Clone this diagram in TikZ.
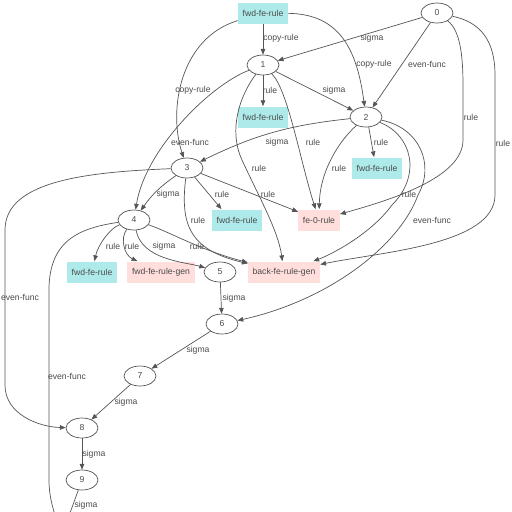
\documentclass[tikz,border=0pt]{standalone}
\usepackage{fontspec}
\setmainfont{Liberation Sans}
\usetikzlibrary{arrows.meta, shapes.geometric}
\definecolor{rulecyan}{RGB}{174,234,234}
\definecolor{genpink}{RGB}{255,222,220}
\definecolor{linegray}{RGB}{85,85,85}
\definecolor{textgray}{RGB}{75,75,75}

\begin{document}
\begin{tikzpicture}[x=0.02cm, y=-0.02cm, >={Triangle[length=3.3pt, width=2.6pt]},
	font=\fontsize{4.9}{5.5}\selectfont,
	nstate/.style={ellipse, draw=linegray, line width=0.4pt, minimum width=0.64cm, minimum height=0.4cm, inner sep=0pt, text=textgray},
	rbox/.style={rectangle, fill=rulecyan, minimum height=0.42cm, inner xsep=2.6pt, inner ysep=0pt, text=textgray},
	gbox/.style={rbox, fill=genpink},
	conn/.style={->, draw=linegray, line width=0.4pt},
	elab/.style={text=textgray, inner sep=0pt}]
	\clip (0,0) rectangle (512,512);
	
	% States and rules
	\node[rbox] (fwdA) at (263,13) {fwd-fe-rule};
	\node[nstate] (n0) at (437,13) {0};
	\node[nstate] (n1) at (263,65) {1};
	\node[rbox] (fwdB) at (263,117) {fwd-fe-rule};
	\node[nstate] (n2) at (366,117) {2};
	\node[nstate] (n3) at (187,168) {3};
	\node[rbox] (fwdC) at (377,168) {fwd-fe-rule};
	\node[nstate] (n4) at (134,220) {4};
	\node[rbox] (fwdD) at (237,220) {fwd-fe-rule};
	\node[gbox] (fe0) at (319,220) {fe-0-rule};
	\node[rbox] (fwdE) at (92,272) {fwd-fe-rule};
	\node[gbox] (fwdgen) at (161,272) {fwd-fe-rule-gen};
	\node[nstate] (n5) at (220,272) {5};
	\node[gbox] (back) at (284,272) {back-fe-rule-gen};
	\node[nstate] (n6) at (222,324) {6};
	\node[nstate] (n7) at (140,376) {7};
	\node[nstate] (n8) at (82,428) {8};
	\node[nstate] (n9) at (82,480) {9};
	\coordinate (n10) at (62,535);
	
	% From the top rule
	\draw[conn] (fwdA) -- (n1) node[elab] at (281,38) {copy-rule};
	\draw[conn] (fwdA) .. controls (340,14) and (357,50) .. (n2) node[elab] at (374,64) {copy-rule};
	\draw[conn] (fwdA) .. controls (180,38) and (168,110) .. (n3) node[elab] at (193,90) {copy-rule};
	
	% From 0
	\draw[conn] (n0) -- (n1) node[elab] at (372,38) {sigma};
	\draw[conn] (n0) -- (n2) node[elab] at (427,64) {even-func};
	\draw[conn] (n0) .. controls (460,30) and (463,55) .. (463,85) -- (463,140) .. controls (463,178) and (390,200) .. (fe0) node[elab] at (471,117) {rule};
	\draw[conn] (n0) .. controls (480,22) and (495,40) .. (495,75) -- (495,195) .. controls (495,245) and (380,252) .. (back) node[elab] at (503,143) {rule};
	
	% From 1
	\draw[conn] (n1) -- (fwdB) node[elab] at (270,90) {rule};
	\draw[conn] (n1) -- (n2) node[elab] at (334,90) {sigma};
	\draw[conn] (n1) .. controls (210,85) and (145,150) .. (n4) node[elab] at (190,142) {even-func};
	\draw[conn] (n1) .. controls (288,90) and (300,160) .. (fe0) node[elab] at (313,142) {rule};
	\draw[conn] (n1) .. controls (240,95) and (228,130) .. (242,160) .. controls (258,195) and (278,230) .. (back) node[elab] at (259,168) {rule};
	
	% From 2
	\draw[conn] (n2) to[bend right=10] (n3) node[elab] at (277,142) {sigma};
	\draw[conn] (n2.-75) -- (fwdC.105) node[elab] at (381,142) {rule};
	\draw[conn] (n2) .. controls (340,140) and (320,170) .. (fe0) node[elab] at (339,168) {rule};
	\draw[conn] (n2) .. controls (412,135) and (422,175) .. (392,205) .. controls (370,235) and (330,255) .. (back) node[elab] at (409,194) {rule};
	\draw[conn] (n2) .. controls (420,128) and (435,165) .. (418,195) .. controls (400,245) and (330,300) .. (n6) node[elab] at (432,220) {even-func};
	
	% From 3
	\draw[conn] (n3) to[bend right=10] (n4) node[elab] at (168,194) {sigma};
	\draw[conn] (n3) -- (fwdD.145) node[elab] at (222,194) {rule};
	\draw[conn] (n3) -- (fe0) node[elab] at (268,194) {rule};
	\draw[conn] (n3) .. controls (180,225) and (190,250) .. (back) node[elab] at (198,220) {rule};
	\draw[conn] (n3) .. controls (90,172) and (5,180) .. (5,230) -- (5,385) .. controls (5,415) and (40,427) .. (n8) node[elab] at (20,297) {even-func};
	
	% From 4
	\draw[conn] (n4) .. controls (110,228) and (98,245) .. (fwdE) node[elab] at (113,246) {rule};
	\draw[conn] (n4) .. controls (120,238) and (124,255) .. (fwdgen) node[elab] at (132,246) {rule};
	\draw[conn] (n4) .. controls (142,260) and (185,262) .. (n5) node[elab] at (164,246) {sigma};
	\draw[conn] (n4) .. controls (170,232) and (200,250) .. (back) node[elab] at (197,246) {rule};
	\draw[conn] (n4) .. controls (80,228) and (49,240) .. (49,290) -- (49,480) .. controls (49,500) and (55,515) .. (n10) node[elab] at (67,376) {even-func};
	
	% Sigma chain
	\draw[conn] (n5) -- (n6) node[elab] at (234,298) {sigma};
	\draw[conn] (n6) -- (n7) node[elab] at (198,350) {sigma};
	\draw[conn] (n7) -- (n8) node[elab] at (126,402) {sigma};
	\draw[conn] (n8) -- (n9) node[elab] at (94,454) {sigma};
	\draw[conn] (n9) -- (n10) node[elab] at (86,505) {sigma};
\end{tikzpicture}
\end{document}
